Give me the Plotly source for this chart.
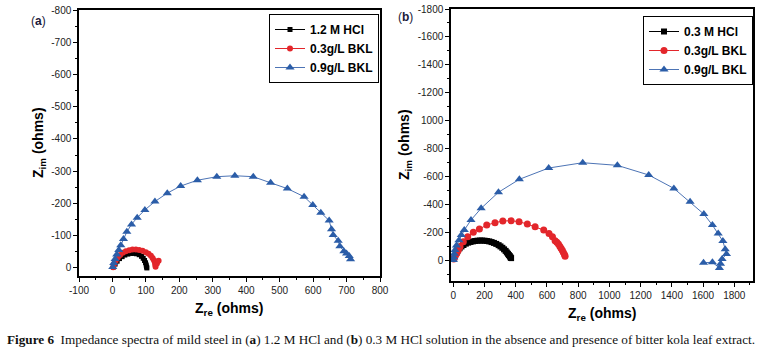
import plotly.graph_objects as go

W, H = 773, 353

# ---------------- Panel (a): 1.2 M HCl ----------------
a_hcl_x = [3, 8, 14, 21, 29, 37, 46, 55, 64, 72, 80, 87, 92, 96, 99, 101, 102, 103]
a_hcl_y = [-3, -12, -21, -29, -35, -40, -43, -45, -45, -44, -41, -36, -30, -23, -16, -9, -3, 0]

a_bkl03_x = [2, 5, 10, 16, 23, 31, 40, 50, 60, 70, 80, 90, 100, 108, 115, 120, 124, 127, 128, 129, 133, 138]
a_bkl03_y = [-2, -12, -22, -32, -40, -47, -52, -55, -57, -57, -56, -53, -49, -44, -38, -31, -24, -17, -10, -4, -14, -22]

a_bkl09_x = [1, 4, 8, 13, 19, 25, 33, 43, 57, 74, 97, 127, 164, 204, 254, 312, 366, 421, 473, 523,
             573, 599, 623, 648, 655, 660, 675, 680, 692, 700, 708, 712]
a_bkl09_y = [-3, -15, -28, -42, -56, -70, -90, -112, -135, -156, -180, -206, -232, -254, -272, -283, -286, -283, -264, -246,
             -221, -195, -171, -147, -120, -102, -84, -67, -52, -45, -37, -27]

# ---------------- Panel (b): 0.3 M HCl ----------------
b_hcl_x = [5, 10, 18, 28, 40, 52, 65, 80, 95, 110, 125, 140, 155, 170, 185, 200, 215, 230, 245, 260,
           275, 290, 302, 314, 325, 335, 343, 350, 356, 362, 366, 370]
b_hcl_y = [-10, -30, -50, -68, -85, -98, -108, -118, -125, -130, -134, -137, -139, -140, -140, -139, -137, -134, -129, -123,
           -116, -107, -98, -88, -77, -66, -55, -45, -36, -28, -20, -14]

b_bkl03_x = [3, 8, 14, 22, 32, 43, 64, 92, 128, 167, 214, 267, 317, 370, 421, 474, 524, 579, 613, 635,
             652, 663, 673, 682, 690, 698, 705, 712, 716]
b_bkl03_y = [-8, -20, -34, -48, -70, -95, -131, -167, -199, -222, -251, -268, -280, -282, -275, -258, -239, -215, -191, -167,
             -139, -127, -115, -100, -84, -70, -55, -40, -28]

b_bkl09_x = [0, 3, 6, 11, 20, 36, 51, 70, 113, 178, 289, 423, 611, 829, 1051, 1252, 1413, 1517, 1605, 1660,
             1697, 1727, 1742, 1750, 1722, 1712, 1705, 1660, 1603]
b_bkl09_y = [0, -20, -45, -72, -105, -143, -180, -215, -287, -371, -486, -579, -660, -698, -679, -610, -514, -418, -330, -251,
             -191, -136, -77, -43, -7, 27, 57, 16, 19]

legend_a = ["1.2 M HCl", "0.3g/L BKL", "0.9g/L BKL"]
legend_b = ["0.3 M HCl", "0.3g/L BKL", "0.9g/L BKL"]

a_yticks = [0, -100, -200, -300, -400, -500, -600, -700, -800]
a_yticktext = ["0", "-100", "-200", "-300", "-400", "-500", "-600", "-700", "-800"]
a_xticks = [-100, 0, 100, 200, 300, 400, 500, 600, 700, 800]
a_xticktext = ["-100", "0", "100", "200", "300", "400", "500", "600", "700", "800"]
b_yticks = [0, -200, -400, -600, -800, -1000, -1200, -1400, -1600, -1800]
b_yticktext = ["0", "-200", "-400", "-600", "-800", "1000", "-1200", "-1400", "-1600", "-1800"]
b_xticks = [0, 200, 400, 600, 800, 1000, 1200, 1400, 1600, 1800]
b_xticktext = ["0", "200", "400", "600", "800", "1000", "1200", "1400", "1600", "1800"]

BLACK = "#000000"
RED = "#e3262b"
BLUE = "#2b5da8"
BLUE_LINE = "#4d74b5"

fig = go.Figure()

def add(x, y, name, color, lcolor, symbol, size, xa, ya, legend):
    fig.add_trace(go.Scatter(
        x=x, y=y, name=name, mode="lines+markers",
        line=dict(color=lcolor, width=1),
        marker=dict(color=color, symbol=symbol, size=size, line=dict(width=0)),
        xaxis=xa, yaxis=ya, legend=legend))

add(a_hcl_x, a_hcl_y, legend_a[0], BLACK, BLACK, "square", 5, "x", "y", "legend")
add(a_bkl03_x, a_bkl03_y, legend_a[1], RED, RED, "circle", 6, "x", "y", "legend")
add(a_bkl09_x, a_bkl09_y, legend_a[2], BLUE, BLUE_LINE, "triangle-up", 8, "x", "y", "legend")

add(b_hcl_x, b_hcl_y, legend_b[0], BLACK, BLACK, "square", 6, "x2", "y2", "legend2")
add(b_bkl03_x, b_bkl03_y, legend_b[1], RED, RED, "circle", 7, "x2", "y2", "legend2")
add(b_bkl09_x, b_bkl09_y, legend_b[2], BLUE, BLUE_LINE, "triangle-up", 8, "x2", "y2", "legend2")

tickfont = dict(family="Liberation Sans, Arial, sans-serif", size=10, color="#222")

def axis(dom, rng, tv, tt, minor_dtick, anchor):
    return dict(domain=dom, range=rng, tickvals=tv, ticktext=tt, tickmode="array",
                automargin=False, ticklabeloverflow="allow",
                showgrid=False, zeroline=False, showline=True, linecolor="#000", linewidth=1.5,
                mirror=True, ticks="outside", ticklen=4, tickwidth=1, tickcolor="#000",
                tickfont=tickfont, anchor=anchor,
                minor=dict(ticks="outside", ticklen=2, tickwidth=1, tickcolor="#000", dtick=minor_dtick, showgrid=False))

def px_x(p):
    return p / W

def px_y(p):
    return 1 - p / H

legend_font = dict(family="Liberation Sans, Arial, sans-serif", size=12, color="#000", weight="bold")

fig.update_layout(
    width=W, height=H,
    margin=dict(l=0, r=0, t=0, b=0, autoexpand=False),
    paper_bgcolor="white", plot_bgcolor="white",
    xaxis=axis([px_x(79), px_x(380)], [-100, 800], a_xticks, a_xticktext, 50, "y"),
    yaxis=axis([px_y(276), px_y(10)], [25, -800], a_yticks, a_yticktext, 50, "x"),
    xaxis2=axis([px_x(451), px_x(753)], [-15, 1920], b_xticks, b_xticktext, 100, "y2"),
    yaxis2=axis([px_y(281), px_y(9)], [150, -1800], b_yticks, b_yticktext, 100, "x2"),
    legend=dict(x=px_x(379), y=px_y(14), xanchor="right", yanchor="top",
                bordercolor="#000", borderwidth=1, bgcolor="white",
                font=legend_font, tracegroupgap=0, itemwidth=30),
    legend2=dict(x=px_x(753), y=px_y(16), xanchor="right", yanchor="top",
                 bordercolor="#000", borderwidth=1, bgcolor="white",
                 font=legend_font, tracegroupgap=0, itemwidth=30),
    showlegend=True,
)

title_font = dict(family="Liberation Sans, Arial, sans-serif", size=14, color="#000")
anns = [
    dict(text="<b>Z<sub>im</sub> (ohms)</b>", x=px_x(39), y=px_y(143), textangle=-90),
    dict(text="<b>Z<sub>re</sub> (ohms)</b>", x=px_x(229), y=px_y(309)),
    dict(text="<b>Z<sub>im</sub> (ohms)</b>", x=px_x(405), y=px_y(145), textangle=-90),
    dict(text="<b>Z<sub>re</sub> (ohms)</b>", x=px_x(602), y=px_y(314)),
]
for a in anns:
    fig.add_annotation(xref="paper", yref="paper", showarrow=False, font=title_font,
                       xanchor="center", yanchor="middle", **a)

panel_font = dict(family="Liberation Sans, Arial, sans-serif", size=12, color="#1a1a3a")
fig.add_annotation(text="(<b>a</b>)", x=px_x(29), y=px_y(21), xref="paper", yref="paper",
                   showarrow=False, font=panel_font, xanchor="left", yanchor="middle")
fig.add_annotation(text="(<b>b</b>)", x=px_x(396), y=px_y(17), xref="paper", yref="paper",
                   showarrow=False, font=panel_font, xanchor="left", yanchor="middle")

fig.add_annotation(
    text="<b>Figure 6</b>  Impedance spectra of mild steel in (<b>a</b>) 1.2 M HCl and (<b>b</b>) 0.3 M HCl solution in the absence and presence of bitter kola leaf extract.",
    x=px_x(5), y=px_y(339), xref="paper", yref="paper", showarrow=False,
    font=dict(family="Liberation Serif, Times New Roman, serif", size=13.2, color="#111"),
    xanchor="left", yanchor="middle")

fig.write_html("out.html", config={"displayModeBar": False},
               post_script="document.body.style.margin='0';document.body.style.overflow='hidden';")
